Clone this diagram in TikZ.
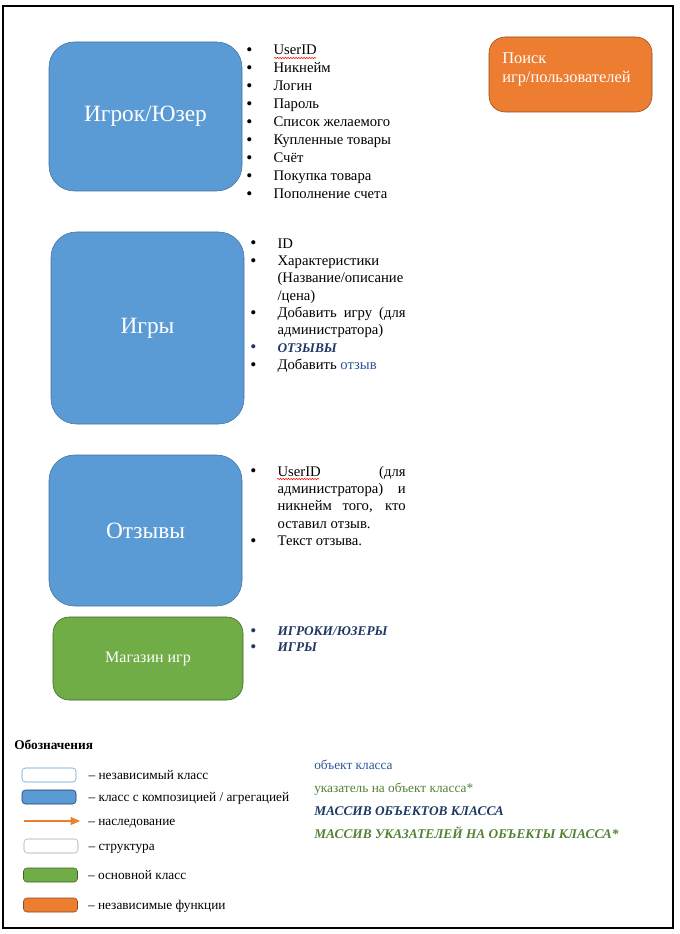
\documentclass[tikz,border=0pt]{standalone}
\usepackage{fontspec}
\setmainfont{Liberation Serif}
\usepackage{xcolor}
\usetikzlibrary{positioning,arrows.meta,decorations.pathmorphing}
\definecolor{clsblue}{HTML}{5B9BD5}
\definecolor{clsline}{HTML}{41719C}
\definecolor{fnorange}{HTML}{ED7D31}
\definecolor{fnline}{HTML}{8E4A1C}
\definecolor{maingreen}{HTML}{70AD47}
\definecolor{mainline}{HTML}{3C6424}
\definecolor{objblue}{HTML}{2F5597}
\definecolor{arrblue}{HTML}{1F3864}
\definecolor{ptrgreen}{HTML}{538135}
\tikzset{
     cls/.style={rectangle, draw=clsline, fill=clsblue, text=white,
                 rounded corners=19pt, minimum width=144.75pt,
                 font=\fontsize{17.5}{20}\selectfont},
     lst/.style={anchor=base west, inner sep=0pt,
                 font=\fontsize{11}{13.5}\selectfont},
     lgbox/.style={rectangle, draw, rounded corners=2.5pt, minimum width=40.5pt,
                   minimum height=10.5pt, inner sep=0pt},
     lgtext/.style={inner sep=0pt, text height=6.8pt, text depth=0pt,
                    font=\fontsize{10}{12}\selectfont},
     arrow/.style={-{Triangle[length=7pt,width=6pt]}}
     }
\newcommand{\li}{\makebox[20.5pt][l]{\raisebox{-0.5pt}{\fontsize{13}{12}\selectfont\textbullet}}}
\newcommand{\lc}{\hspace*{20.5pt}}

\begin{document}
\begin{tikzpicture}[x=0.75pt,y=-0.75pt]
\tikzstyle{func} = [rectangle, draw=fnline, fill=fnorange, rounded corners=12pt,
minimum width=122.25pt, minimum height=56.25pt]
\tikzstyle{mainclass} = [rectangle, draw=mainline, fill=maingreen, text=white,
rounded corners=12pt, minimum width=142.5pt, minimum height=62.25pt,
font=\fontsize{12}{14}\selectfont]
\tikzstyle{squiggle} = [draw=red, decorate, decoration={snake, amplitude=0.5pt, segment length=2pt}]

\useasboundingbox (0,0) rectangle (680,934);
\draw[line width=0.8pt] (3,6) rectangle (673,928);

\node [cls, minimum height=111.75pt] (U) at (145.5,116.5) {Игрок/Юзер};
\node [lst] (UL) at (246,55) {\begin{tabular}[t]{@{}l@{}}
\li UserID\\ \li Никнейм\\ \li Логин\\ \li Пароль\\ \li Список желаемого\\
\li Купленные товары\\ \li Счёт\\ \li Покупка товара\\ \li Пополнение счета
\end{tabular}};
\draw[squiggle] (274,58) -- (316,58);

\node [func] (S) at (570.5,74.5) {};
\node [anchor=north west, inner sep=0pt, align=left, text=white,
font=\fontsize{12.3}{14.25}\selectfont] (ST) at (502,52) {Поиск\\игр/пользователей};

\node [cls, minimum height=144pt] (G) at (147.5,328) {Игры};
\node [lst, font=\fontsize{11}{13}\selectfont] (GL) at (250,248) {\begin{tabular}[t]{@{}l@{}}
\li ID\\ \li Характеристики\\ \lc(Название/описание\\ \lc/цена)\\
\li\makebox[96pt][s]{Добавить игру (для}\\ \lc администратора)\\
{\color{arrblue}\li\fontsize{10}{13}\selectfont\bfseries\itshape ОТЗЫВЫ}\\
\li Добавить {\color{objblue}отзыв}
\end{tabular}};

\node [cls, minimum height=113.25pt] (R) at (145.5,530.5) {Отзывы};
\node [lst, font=\fontsize{11}{13}\selectfont] (RL) at (250,476) {\begin{tabular}[t]{@{}l@{}}
\li\makebox[96pt][s]{UserID\hfill(для}\\ \lc\makebox[96pt][s]{администратора)\hfill и}\\
\lc\makebox[96pt][s]{никнейм того, кто}\\ \lc оставил отзыв.\\ \li Текст отзыва.
\end{tabular}};
\draw[squiggle] (277,479) -- (319,479);

\node [mainclass] (M) at (148,658.5) {Магазин игр};
\node [lst, text=arrblue, font=\fontsize{10}{12}\selectfont] (ML) at (250,635.5) {\begin{tabular}[t]{@{}l@{}}
\li{\bfseries\itshape ИГРОКИ/ЮЗЕРЫ}\\
\li{\bfseries\itshape ИГРЫ}
\end{tabular}};

%legend
\node [anchor=west, inner sep=0pt, font=\fontsize{10}{12}\selectfont\bfseries] (LG) at (14,745) {Обозначения};

\node [lgbox, draw=clsblue, fill=white] (L1) at (49,775) {};
\node [lgtext, right=9pt of L1] (T1) {– независимый класс};
\node [lgbox, draw=arrblue, fill=clsblue] (L2) at (49,797) {};
\node [lgtext, right=9pt of L2] (T2) {– класс с композицией / агрегацией};
\coordinate (A1) at (24,821);
\coordinate (A2) at (80,821);
\draw[arrow, fnorange, line width=0.8pt] (A1) -- (A2);
\node [lgtext, right=6pt of A2] (T3) {– наследование};
\node [lgbox, draw=black!35, fill=white] (L4) at (51,846) {};
\node [lgtext, right=7.5pt of L4] (T4) {– структура};
\node [lgbox, draw=mainline, fill=maingreen] (L5) at (50.5,875) {};
\node [lgtext, right=7.5pt of L5] (T5) {– основной класс};
\node [lgbox, draw=fnline, fill=fnorange] (L6) at (50.5,905) {};
\node [lgtext, right=7.5pt of L6] (T6) {– независимые функции};

\node [lgtext, anchor=west, text=objblue] (K1) at (314,765) {объект класса};
\node [lgtext, anchor=west, text=ptrgreen] (K2) at (314,788) {указатель на объект класса*};
\node [lgtext, anchor=west, text=arrblue, font=\fontsize{10}{12}\selectfont\bfseries\itshape] (K3) at (314,811) {МАССИВ ОБЪЕКТОВ КЛАССА};
\node [lgtext, anchor=west, text=ptrgreen, font=\fontsize{10}{12}\selectfont\bfseries\itshape] (K4) at (314,834) {МАССИВ УКАЗАТЕЛЕЙ НА ОБЪЕКТЫ КЛАССА*};
\end{tikzpicture}
\end{document}
